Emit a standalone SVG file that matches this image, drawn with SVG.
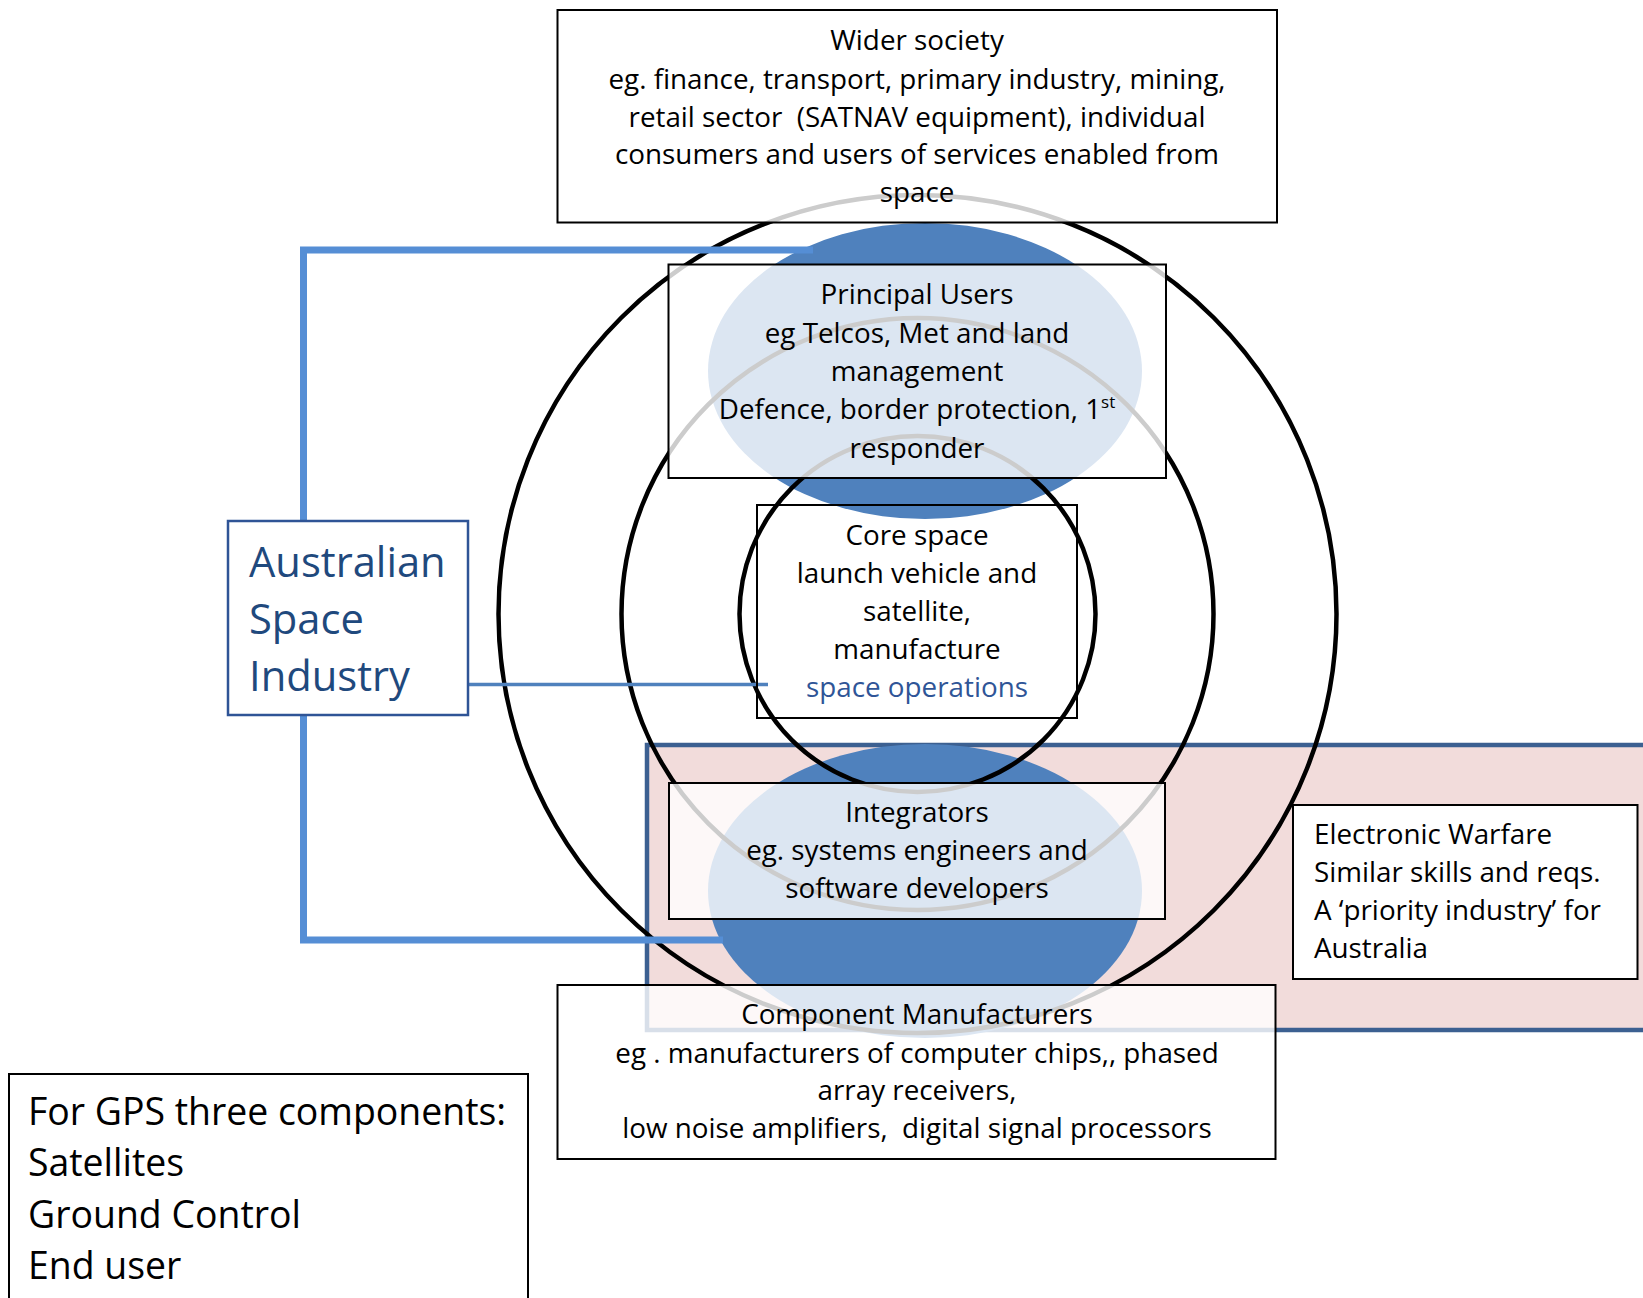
<svg xmlns="http://www.w3.org/2000/svg" width="1643" height="1298" viewBox="0 0 1643 1298">
<style>
text{font-family:"Open Sans","Noto Sans",sans-serif;font-size:27.8px;fill:#000;white-space:pre}
.c{text-anchor:middle}
.ring{fill:none;stroke:#000;stroke-width:4.5}
.box{fill:#fff;fill-opacity:0.8;stroke:#000;stroke-width:2}
.blob{fill:#4F81BD}
.conn{fill:none;stroke:#558ED5;stroke-width:7}
.asi{fill:#1F497D;font-size:41.7px}
.gps{font-size:37.4px}
</style>
<rect width="1643" height="1298" fill="#fff"/>
<g id="ew-zone">
<rect x="647" y="745" width="1010" height="285" fill="#F2DCDB" stroke="#3C6091" stroke-width="4.5"/>
</g>
<g id="ellipses">
<ellipse class="blob" cx="925" cy="371" rx="217" ry="148"/>
<ellipse class="blob" cx="925" cy="891" rx="217" ry="147"/>
</g>
<g id="rings">
<circle class="ring" cx="917.5" cy="614" r="419"/>
<circle class="ring" cx="917.5" cy="614" r="296"/>
<circle class="ring" cx="917.5" cy="614" r="178"/>
</g>
<g id="connectors">
<polyline class="conn" points="813,250 303.5,250 303.5,521"/>
<polyline class="conn" points="303.5,715 303.5,940 723,940"/>
<line x1="468" y1="684.5" x2="768" y2="684.5" stroke="#4F81BD" stroke-width="3.5"/>
</g>
<g id="wider-society">
<rect class="box" x="557.5" y="10" width="719.5" height="212.5"/>
<text class="c" x="917" y="50">Wider society</text>
<text class="c" x="917" y="89">eg. finance, transport, primary industry, mining,</text>
<text class="c" x="917" y="127">retail sector  (SATNAV equipment), individual</text>
<text class="c" x="917" y="164">consumers and users of services enabled from</text>
<text class="c" x="917" y="202">space</text>
</g>
<g id="principal-users">
<rect class="box" x="668.5" y="264.5" width="497.5" height="213.5"/>
<text class="c" x="917" y="304">Principal Users</text>
<text class="c" x="917" y="343">eg Telcos, Met and land</text>
<text class="c" x="917" y="381">management</text>
<text class="c" x="917" y="419">Defence, border protection, 1<tspan style="font-size:17px" dy="-11">st</tspan></text>
<text class="c" x="917" y="458">responder</text>
</g>
<g id="core-space">
<rect x="757" y="505" width="320" height="213" fill="none" stroke="#000" stroke-width="2"/>
<text class="c" x="917" y="545">Core space</text>
<text class="c" x="917" y="583">launch vehicle and</text>
<text class="c" x="917" y="621">satellite,</text>
<text class="c" x="917" y="659">manufacture</text>
<text class="c" x="917" y="697" style="fill:#2F5597">space operations</text>
</g>
<g id="integrators">
<rect class="box" x="669" y="783" width="496" height="136"/>
<text class="c" x="917" y="822">Integrators</text>
<text class="c" x="917" y="860">eg. systems engineers and</text>
<text class="c" x="917" y="898">software developers</text>
</g>
<g id="component-manufacturers">
<rect class="box" x="557.5" y="985" width="718" height="174"/>
<text class="c" x="917" y="1024">Component Manufacturers</text>
<text class="c" x="917" y="1063">eg . manufacturers of computer chips,, phased</text>
<text class="c" x="917" y="1100">array receivers,</text>
<text class="c" x="917" y="1138">low noise amplifiers,  digital signal processors</text>
</g>
<g id="electronic-warfare">
<rect x="1293" y="805" width="344.5" height="174" fill="#fff" stroke="#000" stroke-width="2"/>
<text x="1314" y="844">Electronic Warfare</text>
<text x="1314" y="882">Similar skills and reqs.</text>
<text x="1314" y="920">A ‘priority industry’ for</text>
<text x="1314" y="958">Australia</text>
</g>
<g id="australian-space-industry">
<rect x="228" y="521" width="240" height="194" fill="#fff" stroke="#2F5496" stroke-width="2.5"/>
<text class="asi" x="249" y="577">Australian</text>
<text class="asi" x="249" y="634">Space</text>
<text class="asi" x="249" y="691">Industry</text>
</g>
<g id="gps">
<rect x="9" y="1074" width="519" height="240" fill="#fff" stroke="#000" stroke-width="2"/>
<text class="gps" x="28" y="1125">For GPS three components:</text>
<text class="gps" x="28" y="1176">Satellites</text>
<text class="gps" x="28" y="1228">Ground Control</text>
<text class="gps" x="28" y="1279">End user</text>
</g>
</svg>
